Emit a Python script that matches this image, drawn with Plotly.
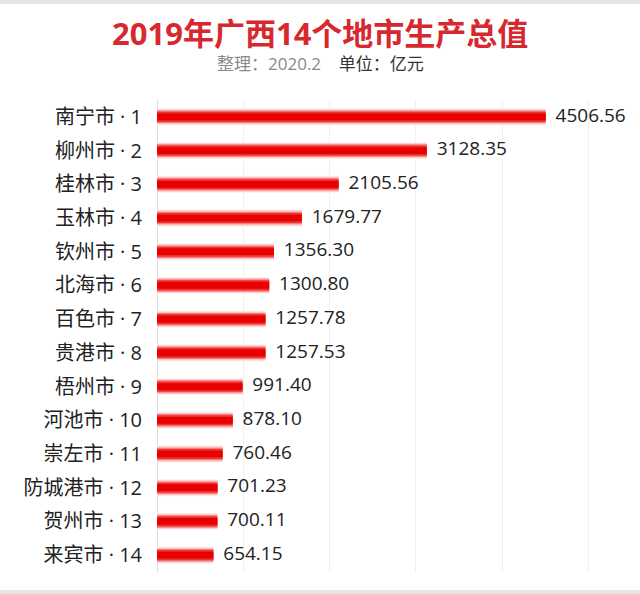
import plotly.graph_objects as go

cities = ["南宁市", "柳州市", "桂林市", "玉林市", "钦州市", "北海市", "百色市",
          "贵港市", "梧州市", "河池市", "崇左市", "防城港市", "贺州市", "来宾市"]
ranks = list(range(1, 15))
gdp = [4506.56, 3128.35, 2105.56, 1679.77, 1356.30, 1300.80, 1257.78,
       1257.53, 991.40, 878.10, 760.46, 701.23, 700.11, 654.15]

labels = [f"{c} · {r}" for c, r in zip(cities, ranks)]
font = "Open Sans, Noto Sans CJK SC, sans-serif"

L, R, T, B = 157, 0, 100, 22
W, H = 640, 594
plot_w = W - L - R
plot_h = H - T - B

fig = go.Figure()
# layered bars to mimic the soft/blurred red bar look
layers = [(0.50, "#fdeeee"), (0.44, "#fbc6c6"), (0.37, "#f68080"), (0.30, "#f03030"), (0.20, "#e80000")]
for w, col in layers:
    fig.add_trace(go.Bar(
        x=gdp, y=labels, orientation="h", width=w,
        marker=dict(color=col, line=dict(width=0)),
        hoverinfo="skip", showlegend=False,
    ))

fig.add_trace(go.Scatter(
    x=gdp, y=labels, mode="text",
    text=["\u00a0\u00a0" + f"{v:.2f}" for v in gdp], textposition="middle right",
    textfont=dict(size=19, color="#222222", family=font),
    cliponaxis=False, hoverinfo="skip", showlegend=False,
))

def px_y(y):
    return 1 + (T - y) / plot_h

def px_x(x):
    return (x - L) / plot_w

fig.update_layout(
    width=W, height=H,
    margin=dict(l=L, r=R, t=T, b=B),
    barmode="overlay",
    plot_bgcolor="white", paper_bgcolor="white",
    font=dict(family=font),
    xaxis=dict(range=[0, 5600], showticklabels=False, showgrid=True,
               gridcolor="#f0f0f0", gridwidth=1, dtick=1000, zeroline=True,
               zerolinecolor="#dcdcdc", zerolinewidth=1, fixedrange=True),
    yaxis=dict(range=[13.5, -0.5], tickfont=dict(size=20, color="#222222", family=font),
               showgrid=False, ticklabelstandoff=14, showline=False),
    annotations=[
        dict(text="<b>2019年广西14个地市生产总值</b>", x=px_x(320), y=px_y(33),
             xref="paper", yref="paper", showarrow=False, yanchor="middle",
             font=dict(size=31, color="#d7282f", family=font)),
        dict(text="<span style='color:#8a8a8a'>整理：2020.2</span>    <span style='color:#333333'>单位：亿元</span>",
             x=px_x(320), y=px_y(64), xref="paper", yref="paper", showarrow=False,
             yanchor="middle", font=dict(size=17, family=font)),
    ],
    shapes=[
        dict(type="rect", xref="paper", yref="paper", x0=px_x(0), x1=px_x(W),
             y0=px_y(4), y1=px_y(0), fillcolor="#e6e6e6", line=dict(width=0), layer="below"),
        dict(type="rect", xref="paper", yref="paper", x0=px_x(0), x1=px_x(W),
             y0=px_y(H), y1=px_y(H - 4), fillcolor="#e6e6e6", line=dict(width=0), layer="below"),
    ],
)

fig.write_html("out.html")
